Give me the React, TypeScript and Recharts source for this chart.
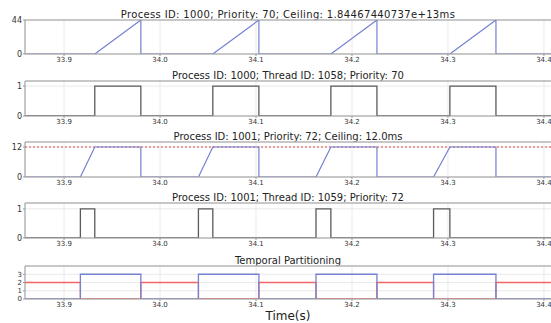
import React from 'react';
import { LineChart, Line, XAxis, YAxis, CartesianGrid, ReferenceLine } from 'recharts';

// time axis
const xMin = 33.8593;
const xMax = 34.4084;
const xTicks = [33.9, 34.0, 34.1, 34.2, 34.3, 34.4];

// job timing (seconds)
const p1001Release = [33.917, 34.04, 34.1625, 34.285];
const p1000Start = [33.932, 34.055, 34.178, 34.302];
const p1000End = [33.98, 34.103, 34.226, 34.35];

const p1000Peak = 44;
const p1001Ceiling = 12;
const partitionBusy = 3;
const partitionIdle = 2;

type Pt = { t: number; v: number };

const rampP1000: Pt[] = [{ t: xMin, v: 0 }];
const thread1058: Pt[] = [{ t: xMin, v: 0 }];
const rampP1001: Pt[] = [{ t: xMin, v: 0 }];
const thread1059: Pt[] = [{ t: xMin, v: 0 }];
const partBlue: Pt[] = [{ t: xMin, v: 0 }];
const partRed: Pt[] = [{ t: xMin, v: partitionIdle }];

p1000Start.forEach((s, i) => {
  const r = p1001Release[i];
  const e = p1000End[i];
  rampP1000.push({ t: s, v: 0 }, { t: e, v: p1000Peak }, { t: e, v: 0 });
  thread1058.push({ t: s, v: 0 }, { t: s, v: 1 }, { t: e, v: 1 }, { t: e, v: 0 });
  rampP1001.push({ t: r, v: 0 }, { t: s, v: p1001Ceiling }, { t: e, v: p1001Ceiling }, { t: e, v: 0 });
  thread1059.push({ t: r, v: 0 }, { t: r, v: 1 }, { t: s, v: 1 }, { t: s, v: 0 });
  partBlue.push({ t: r, v: 0 }, { t: r, v: partitionBusy }, { t: e, v: partitionBusy }, { t: e, v: 0 });
  partRed.push({ t: r, v: partitionIdle }, { t: r, v: 0 }, { t: e, v: 0 }, { t: e, v: partitionIdle });
});
rampP1000.push({ t: xMax, v: 0 });
thread1058.push({ t: xMax, v: 0 });
rampP1001.push({ t: xMax, v: 0 });
thread1059.push({ t: xMax, v: 0 });
partBlue.push({ t: xMax, v: 0 });
partRed.push({ t: xMax, v: partitionIdle });

const BLUE = '#7480d0';
const RED = '#f26565';
const GRAY = '#5a5a5a';
const FRAME = '#9a9a9a';
const FONT = 'DejaVu Sans, sans-serif';

interface PanelProps {
  title: string;
  top: number;
  plotH: number;
  yMax: number;
  yTicks: number[];
  yFont?: number;
  titleSpacing?: number;
  children: React.ReactNode;
}

function Panel({ title, top, plotH, yMax, yTicks, yFont = 8, titleSpacing = 0, children }: PanelProps) {
  const pad = 6;
  return (
    <>
      <div
        style={{
          position: 'absolute',
          left: 25,
          width: 526,
          top: top - 11,
          textAlign: 'center',
          fontSize: 10,
          lineHeight: '12px',
          letterSpacing: titleSpacing,
          color: '#222',
          fontFamily: FONT,
          whiteSpace: 'nowrap',
        }}
      >
        {title}
      </div>
      <div style={{ position: 'absolute', left: 0, top: top - pad }}>
        <LineChart width={552} height={plotH + pad + 15} margin={{ top: pad, right: 0, left: 0, bottom: 0 }}>
          <CartesianGrid stroke="#e9e9e9" />
          <XAxis
            dataKey="t"
            type="number"
            domain={[xMin, xMax]}
            ticks={xTicks}
            allowDataOverflow
            height={15}
            interval={0}
            tickFormatter={(v: number) => v.toFixed(1)}
            tick={{ fontSize: 7, fill: '#333', fontFamily: FONT }}
            tickSize={2}
            tickMargin={1}
            axisLine={{ stroke: FRAME }}
            tickLine={{ stroke: FRAME }}
          />
          <YAxis
            type="number"
            domain={[0, yMax]}
            ticks={yTicks}
            allowDataOverflow
            width={25}
            interval={0}
            tick={{ fontSize: yFont, fill: '#333', fontFamily: FONT }}
            tickSize={2}
            tickMargin={1}
            axisLine={{ stroke: FRAME }}
            tickLine={{ stroke: FRAME }}
          />
          <ReferenceLine y={yMax} stroke={FRAME} />
          {children}
        </LineChart>
      </div>
    </>
  );
}

export default function App() {
  return (
    <div
      style={{
        position: 'fixed',
        left: 0,
        top: 0,
        width: 551,
        height: 323,
        overflow: 'hidden',
        background: '#fff',
      }}
    >
      <Panel
        title="Process ID: 1000; Priority: 70; Ceiling: 1.84467440737e+13ms"
        top={20}
        plotH={34}
        yMax={44}
        yTicks={[0, 44]}
        titleSpacing={0.35}
      >
        <Line data={rampP1000} dataKey="v" type="linear" stroke={BLUE} strokeWidth={1.2} dot={false} isAnimationActive={false} />
      </Panel>
      <Panel title="Process ID: 1000; Thread ID: 1058; Priority: 70" top={81} plotH={35} yMax={1.17} yTicks={[0, 1]}>
        <Line data={thread1058} dataKey="v" type="linear" stroke={GRAY} strokeWidth={1.3} dot={false} isAnimationActive={false} />
      </Panel>
      <Panel title="Process ID: 1001; Priority: 72; Ceiling: 12.0ms" top={142} plotH={35} yMax={14} yTicks={[0, 12]}>
        <ReferenceLine y={p1001Ceiling} stroke="#e04848" strokeDasharray="2 2" strokeWidth={1.2} />
        <Line data={rampP1001} dataKey="v" type="linear" stroke={BLUE} strokeWidth={1.2} dot={false} isAnimationActive={false} />
      </Panel>
      <Panel title="Process ID: 1001; Thread ID: 1059; Priority: 72" top={203} plotH={35} yMax={1.2} yTicks={[0, 1]}>
        <Line data={thread1059} dataKey="v" type="linear" stroke={GRAY} strokeWidth={1.3} dot={false} isAnimationActive={false} />
      </Panel>
      <Panel title="Temporal Partitioning" top={266} plotH={33} yMax={4} yTicks={[0, 1, 2, 3]} yFont={7}>
        <Line data={partRed} dataKey="v" type="linear" stroke={RED} strokeWidth={1.3} dot={false} isAnimationActive={false} />
        <Line data={partBlue} dataKey="v" type="linear" stroke={BLUE} strokeWidth={1.3} dot={false} isAnimationActive={false} />
      </Panel>
      <div
        style={{
          position: 'absolute',
          left: 25,
          width: 526,
          top: 309,
          textAlign: 'center',
          fontSize: 12,
          lineHeight: '14px',
          color: '#222',
          fontFamily: FONT,
        }}
      >
        Time(s)
      </div>
    </div>
  );
}
